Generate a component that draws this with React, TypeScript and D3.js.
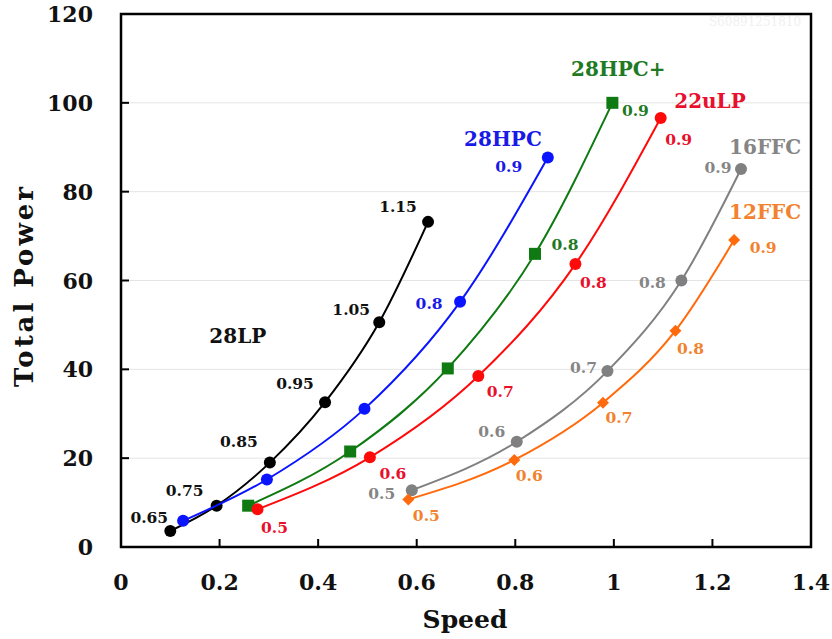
import React from "react";
import * as d3 from "d3";

// speed (x) and total power (y) for each process node
const lp28Speed = [0.1, 0.194, 0.302, 0.414, 0.524, 0.623];
const lp28Power = [3.6, 9.3, 19.0, 32.6, 50.6, 73.2];
const lp28Volts = ["0.65", "0.75", "0.85", "0.95", "1.05", "1.15"];

const hpc28Speed = [0.126, 0.296, 0.494, 0.688, 0.866];
const hpc28Power = [5.9, 15.2, 31.1, 55.2, 87.7];
const hpc28Volts = ["", "", "", "0.8", "0.9"];

const hpcp28Speed = [0.258, 0.465, 0.663, 0.84, 0.997];
const hpcp28Power = [9.3, 21.5, 40.2, 66.0, 100.0];
const hpcp28Volts = ["", "", "", "0.8", "0.9"];

const ulp22Speed = [0.277, 0.505, 0.725, 0.922, 1.095];
const ulp22Power = [8.5, 20.2, 38.5, 63.7, 96.6];
const ulp22Volts = ["0.5", "0.6", "0.7", "0.8", "0.9"];

const ffc16Speed = [0.59, 0.803, 0.987, 1.137, 1.258];
const ffc16Power = [12.8, 23.7, 39.6, 60.0, 85.1];
const ffc16Volts = ["0.5", "0.6", "0.7", "0.8", "0.9"];

const ffc12Speed = [0.583, 0.798, 0.978, 1.125, 1.244];
const ffc12Power = [10.7, 19.6, 32.5, 48.7, 69.1];
const ffc12Volts = ["0.5", "0.6", "0.7", "0.8", "0.9"];

const xTicks = [0, 0.2, 0.4, 0.6, 0.8, 1, 1.2, 1.4];
const yTicks = [0, 20, 40, 60, 80, 100, 120];

// label offsets in px (layout only)
const lp28Off = [[-21, -14], [-32, -15], [-31, -21], [-30, -19], [-28, -13], [-30, -15]];
const hpc28Off = [[0, 0], [0, 0], [0, 0], [-31, 2], [-39, 9]];
const hpcp28Off = [[0, 0], [0, 0], [0, 0], [30, -9], [23, 8]];
const ulp22Off = [[17, 18], [23, 16], [22, 16], [18, 18], [18, 22]];
const ffc16Off = [[-30, 3], [-25, -10], [-24, -4], [-29, 2], [-23, -2]];
const ffc12Off = [[18, 16], [15, 16], [16, 15], [15, 18], [29, 7]];

const series = [
  { name: "28LP", xs: lp28Speed, ys: lp28Power, volts: lp28Volts, off: lp28Off, line: "#000000", text: "#111111", marker: "circle", nameAt: [0.237, 47.7] },
  { name: "28HPC", xs: hpc28Speed, ys: hpc28Power, volts: hpc28Volts, off: hpc28Off, line: "#0a14ff", text: "#1a1ae6", marker: "circle", nameAt: [0.775, 92.0] },
  { name: "28HPC+", xs: hpcp28Speed, ys: hpcp28Power, volts: hpcp28Volts, off: hpcp28Off, line: "#0f7a12", text: "#1f7a24", marker: "square", nameAt: [1.009, 107.8] },
  { name: "22uLP", xs: ulp22Speed, ys: ulp22Power, volts: ulp22Volts, off: ulp22Off, line: "#ff0a0a", text: "#e8102c", marker: "circle", nameAt: [1.195, 100.6] },
  { name: "16FFC", xs: ffc16Speed, ys: ffc16Power, volts: ffc16Volts, off: ffc16Off, line: "#808080", text: "#858585", marker: "circle", nameAt: [1.307, 90.1] },
  { name: "12FFC", xs: ffc12Speed, ys: ffc12Power, volts: ffc12Volts, off: ffc12Off, line: "#ff6a0c", text: "#f2822e", marker: "diamond", nameAt: [1.307, 75.5] },
];

const FONT = "'DejaVu Serif', serif";

export default function App() {
  const left = 121, right = 811, top = 14, bottom = 547;
  const x = d3.scaleLinear().domain([0, 1.4]).range([left, right]);
  const y = d3.scaleLinear().domain([0, 120]).range([bottom, top]);
  const line = d3
    .line<number[]>()
    .x((d) => x(d[0]))
    .y((d) => y(d[1]))
    .curve(d3.curveMonotoneX);

  const markerFor = (kind: string, cx: number, cy: number, color: string, key: string) => {
    if (kind === "square")
      return <rect key={key} x={cx - 6} y={cy - 6} width={12} height={12} fill={color} />;
    if (kind === "diamond")
      return <path key={key} d={`M${cx},${cy - 6}L${cx + 6},${cy}L${cx},${cy + 6}L${cx - 6},${cy}Z`} fill={color} />;
    return <circle key={key} cx={cx} cy={cy} r={6} fill={color} />;
  };

  return (
    <svg width={832} height={639} style={{ position: "absolute", left: 0, top: 0, background: "#fff" }}>
      <rect width={832} height={639} fill="#fff" />
      {/* gridlines */}
      {yTicks.slice(1, -1).map((t) => (
        <line key={"g" + t} x1={left} x2={right} y1={y(t)} y2={y(t)} stroke="#e4e4e4" strokeWidth={1} />
      ))}
      <text x={755} y={26} textAnchor="middle" fontFamily={FONT} fontSize={12} fill="#f0f0f0">S60891251810</text>

      {/* frame */}
      <rect x={left} y={top} width={right - left} height={bottom - top} fill="none" stroke="#000" strokeWidth={2.5} />

      {/* ticks */}
      {xTicks.slice(1, -1).map((t) => (
        <line key={"xt" + t} x1={x(t)} x2={x(t)} y1={bottom} y2={bottom - 8} stroke="#000" strokeWidth={2} />
      ))}
      {yTicks.slice(1, -1).map((t) => (
        <line key={"yt" + t} x1={left} x2={left + 8} y1={y(t)} y2={y(t)} stroke="#000" strokeWidth={2} />
      ))}
      {xTicks.map((t) => (
        <text key={"xl" + t} x={x(t)} y={590} textAnchor="middle" fontFamily={FONT} fontWeight="bold" fontSize={22} fill="#111">
          {d3.format("~g")(t)}
        </text>
      ))}
      {yTicks.map((t) => (
        <text key={"yl" + t} x={93} y={y(t) + 8} textAnchor="end" fontFamily={FONT} fontWeight="bold" fontSize={22} fill="#111">
          {t}
        </text>
      ))}
      <text x={465} y={628} textAnchor="middle" fontFamily={FONT} fontWeight="bold" fontSize={25} fill="#111">
        Speed
      </text>
      <text
        transform="translate(33,287) rotate(-90)"
        textAnchor="middle"
        fontFamily={FONT}
        fontWeight="bold"
        fontSize={26}
        fill="#111"
        textLength={200}
        lengthAdjust="spacing"
      >
        Total  Power
      </text>

      {/* series */}
      {series.map((s) => {
        const pts = s.xs.map((v, i) => [v, s.ys[i]]);
        return (
          <g key={s.name}>
            <path d={line(pts) || ""} fill="none" stroke={s.line} strokeWidth={2} />
            {pts.map((p, i) => markerFor(s.marker, x(p[0]), y(p[1]), s.line, s.name + i))}
            {pts.map((p, i) =>
              s.volts[i] ? (
                <text
                  key={s.name + "v" + i}
                  x={x(p[0]) + s.off[i][0]}
                  y={y(p[1]) + s.off[i][1] + 5.5}
                  textAnchor="middle"
                  fontFamily={FONT}
                  fontWeight="bold"
                  fontSize={15.5}
                  fill={s.text}
                >
                  {s.volts[i]}
                </text>
              ) : null
            )}
            <text
              x={x(s.nameAt[0])}
              y={y(s.nameAt[1]) + 7.5}
              textAnchor="middle"
              fontFamily={FONT}
              fontWeight="bold"
              fontSize={20}
              fill={s.text}
            >
              {s.name}
            </text>
          </g>
        );
      })}
    </svg>
  );
}
